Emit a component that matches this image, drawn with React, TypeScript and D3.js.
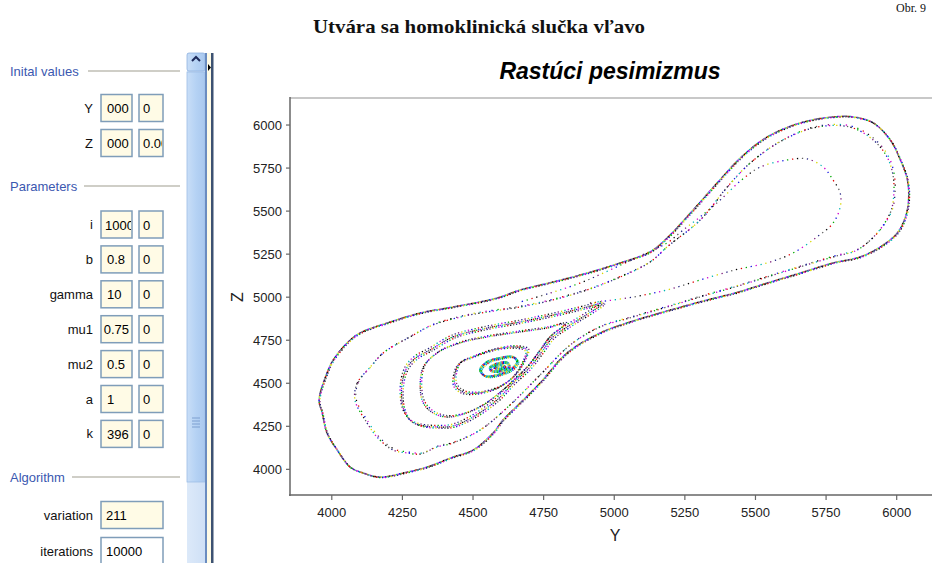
import React from 'react';
import * as d3 from 'd3';

// ---- chart data (Y, Z) ----
const axisTicks = [4000, 4250, 4500, 4750, 5000, 5250, 5500, 5750, 6000];

// big outer trajectory around both lobes
const outerLoop: [number, number][] = [
  [3955, 4403], [3983, 4559], [4005, 4635], [4054, 4734], [4100, 4792], [4196, 4850],
  [4313, 4908], [4429, 4943], [4585, 4995], [4667, 5042], [4783, 5088], [4904, 5140],
  [5021, 5199], [5127, 5263], [5187, 5344], [5279, 5506], [5364, 5663], [5450, 5814],
  [5541, 5930], [5658, 6012], [5775, 6047], [5846, 6047], [5917, 6012], [5977, 5913],
  [6013, 5797], [6038, 5680], [6042, 5564], [6031, 5466], [6002, 5373], [5942, 5292],
  [5871, 5234], [5775, 5199], [5658, 5140], [5541, 5082], [5427, 5024], [5329, 4984],
  [5187, 4920], [5067, 4862], [4950, 4792], [4833, 4676], [4737, 4501], [4667, 4385],
  [4606, 4286], [4571, 4211], [4500, 4112], [4429, 4071], [4337, 4013], [4267, 3984],
  [4171, 3955], [4111, 3979], [4065, 4013], [4019, 4112], [3983, 4211], [3966, 4327],
];

// second, sparser trajectory just inside the outer one
const secondLoop: [number, number][] = [
  [4082, 4403], [4090, 4501], [4136, 4594], [4182, 4676], [4277, 4769], [4359, 4839],
  [4490, 4897], [4667, 4943], [4783, 4984], [4904, 5042], [5021, 5117], [5127, 5204],
  [5187, 5292], [5304, 5448], [5400, 5640], [5481, 5779], [5598, 5913], [5718, 5988],
  [5835, 5988], [5917, 5913], [5966, 5814], [5988, 5698], [5988, 5564], [5977, 5489],
  [5931, 5373], [5860, 5274], [5775, 5234], [5658, 5176], [5541, 5117], [5427, 5059],
  [5304, 5001], [5187, 4943], [5067, 4885], [4950, 4827], [4844, 4722], [4737, 4548],
  [4631, 4374], [4525, 4228], [4429, 4153], [4373, 4130], [4313, 4089], [4267, 4095],
  [4217, 4112], [4160, 4188], [4125, 4269],
];

// inner loop of the right lobe (open)
const rightInner: [number, number][] = [
  [4914, 4966], [5067, 5001], [5187, 5042], [5304, 5100], [5427, 5158], [5541, 5199],
  [5633, 5257], [5718, 5350], [5775, 5431], [5800, 5524], [5800, 5605], [5775, 5680],
  [5740, 5756], [5683, 5803], [5612, 5797], [5517, 5756], [5450, 5680], [5375, 5564],
  [5304, 5466], [5244, 5390], [5187, 5315], [5092, 5240], [4985, 5158], [4879, 5082],
  [4773, 5024], [4667, 4972],
];

// nested loops of the left lobe
const leftLoop3: [number, number][] = [
  [4348, 4693], [4429, 4769], [4550, 4821], [4667, 4856], [4783, 4896], [4904, 4943],
  [4961, 4966], [4833, 4827], [4783, 4769], [4748, 4693], [4702, 4594], [4642, 4501],
  [4585, 4403], [4500, 4304], [4429, 4252], [4373, 4246], [4313, 4257], [4277, 4286],
  [4252, 4362], [4249, 4501], [4267, 4594], [4302, 4653],
];
const leftLoop4: [number, number][] = [
  [4324, 4594], [4373, 4676], [4454, 4734], [4550, 4769], [4667, 4798], [4762, 4821],
  [4826, 4845], [4772, 4769], [4737, 4693], [4691, 4594], [4606, 4461], [4525, 4362],
  [4454, 4315], [4408, 4304], [4359, 4327], [4324, 4385], [4313, 4478],
];
const leftLoop5: [number, number][] = [
  [4437, 4559], [4454, 4618], [4500, 4653], [4571, 4693], [4642, 4711], [4691, 4693],
  [4677, 4618], [4642, 4536], [4585, 4472], [4514, 4443], [4465, 4449], [4437, 4490],
];
const core1: [number, number][] = [
  [4525, 4577], [4550, 4624], [4596, 4647], [4642, 4653], [4656, 4624], [4631, 4577],
  [4585, 4548], [4543, 4542],
];
const core2: [number, number][] = [
  [4561, 4589], [4585, 4612], [4621, 4618], [4628, 4594], [4596, 4571], [4568, 4571],
];
const core3: [number, number][] = [
  [4575, 4594], [4596, 4606], [4613, 4594], [4596, 4583],
];

const dotColors = ['#000000', '#e00000', '#00a800', '#1010e0', '#d000d0', '#00b4b4', '#d8d800', '#7a1a7a', '#202080', '#606060'];
const dotColorsRev = [...dotColors].reverse();
const coreColors = ['#00b4b4', '#20a0a0', '#d8d800', '#00b4b4', '#e00000', '#1010e0', '#00c8c8', '#00a800'];

// ---- left panel data ----
const initLabels = ['Y', 'Z'];
const initValues = ['000', '000'];
const initSteps = ['0', '0.00'];
const paramLabels = ['i', 'b', 'gamma', 'mu1', 'mu2', 'a', 'k'];
const paramValues = ['1000', '0.8', '10', '0.75', '0.5', '1', '396'];
const paramSteps = ['0', '0', '0', '0', '0', '0', '0'];
const algoLabels = ['variation', 'iterations'];
const algoValues = ['211', '10000'];

const x = d3.scaleLinear().domain([3852, 6125]).range([290, 932]);
const z = d3.scaleLinear().domain([3851, 6157]).range([495, 98]);

const closedLine = d3.line<[number, number]>().x((d) => x(d[0])).y((d) => z(d[1])).curve(d3.curveCatmullRomClosed.alpha(0.5));
const openLine = d3.line<[number, number]>().x((d) => x(d[0])).y((d) => z(d[1])).curve(d3.curveCatmullRom.alpha(0.5));

function Dotted({ pts, closed = true, period, width = 1.3, colors = dotColors, sx = 0, sy = 0 }: {
  pts: [number, number][]; closed?: boolean; period: number; width?: number; colors?: string[]; sx?: number; sy?: number;
}) {
  const d = (closed ? closedLine : openLine)(pts) || '';
  const n = colors.length;
  const dot = Math.min(1.3, period * 0.9);
  return (
    <g transform={`translate(${sx}, ${sy})`}>
      {colors.map((c, i) => (
        <path key={i} d={d} fill="none" stroke={c} strokeWidth={width}
          strokeDasharray={`${dot} ${n * period - dot}`} strokeDashoffset={-i * period} />
      ))}
    </g>
  );
}

const FONT = '"Liberation Sans", Arial, sans-serif';

function InputBox({ bx, cy, w, value, fill = '#fffbe6', align = 'start', pad = 5 }: {
  bx: number; cy: number; w: number; value: string; fill?: string; align?: string; pad?: number;
}) {
  const h = 27;
  return (
    <g>
      <rect x={bx} y={cy - h / 2} width={w} height={h} fill={fill} stroke="#7f9db9" strokeWidth={1.5} />
      <svg x={bx + 1} y={cy - h / 2 + 1} width={w - 2} height={h - 2}>
        <text x={align === 'end' ? w - 4 : pad} y={h / 2 + 4} fontSize={13} fontFamily={FONT}
          textAnchor={align === 'end' ? 'end' : 'start'} fill="#000">{value}</text>
      </svg>
    </g>
  );
}

function Section({ label, y, lineFrom }: { label: string; y: number; lineFrom: number }) {
  return (
    <g>
      <text x={10} y={y + 5} fontSize={13} fontFamily={FONT} fill="#3b58b0">{label}</text>
      <line x1={lineFrom} x2={180} y1={y} y2={y} stroke="#a09e90" strokeWidth={1.2} />
    </g>
  );
}

function LeftPanel() {
  const initY = [108, 143];
  const paramY = paramLabels.map((_, i) => 224.5 + i * 34.9);
  const algoY = [515, 551];
  const label = (t: string, cy: number) => (
    <text x={93} y={cy + 4.5} textAnchor="end" fontSize={13} fontFamily={FONT} fill="#111">{t}</text>
  );
  return (
    <g>
      <Section label="Inital values" y={71} lineFrom={88} />
      {initLabels.map((l, i) => (
        <g key={l}>
          {label(l, initY[i])}
          <InputBox bx={101} cy={initY[i]} w={31} value={initValues[i]} />
          <InputBox bx={139} cy={initY[i]} w={24} value={initSteps[i]} pad={3} />
        </g>
      ))}
      <Section label="Parameters" y={186} lineFrom={84} />
      {paramLabels.map((l, i) => (
        <g key={l}>
          {label(l, paramY[i])}
          <InputBox bx={101} cy={paramY[i]} w={31} value={paramValues[i]}
            align={paramValues[i] === '0.75' ? 'end' : 'start'} pad={paramValues[i].length > 3 ? 3 : 5} />
          <InputBox bx={139} cy={paramY[i]} w={24} value={paramSteps[i]} pad={3} />
        </g>
      ))}
      <Section label="Algorithm" y={477} lineFrom={72} />
      {algoLabels.map((l, i) => (
        <g key={l}>
          {label(l, algoY[i])}
          <InputBox bx={101} cy={algoY[i]} w={62} value={algoValues[i]} fill={i === 1 ? '#ffffff' : '#fffbe6'} pad={4} />
        </g>
      ))}
      {/* scrollbar */}
      <defs>
        <linearGradient id="sb" x1="0" x2="1" y1="0" y2="0">
          <stop offset="0" stopColor="#c9def7" />
          <stop offset="0.5" stopColor="#b5d2f4" />
          <stop offset="1" stopColor="#a9c8ee" />
        </linearGradient>
        <linearGradient id="sbt" x1="0" x2="1" y1="0" y2="0">
          <stop offset="0" stopColor="#dce9f9" />
          <stop offset="1" stopColor="#cfe0f6" />
        </linearGradient>
      </defs>
      <rect x={187} y={53} width={18} height={510} fill="url(#sbt)" />
      <rect x={187} y={72} width={18} height={410} fill="url(#sb)" stroke="#9dbde6" strokeWidth={0.8} />
      <rect x={187} y={53} width={18} height={18} rx={2} fill="url(#sb)" stroke="#8fb2e0" strokeWidth={0.8} />
      <path d="M192,61 L196,57 L200,61" fill="none" stroke="#1c2a5a" strokeWidth={2} />
      {[0, 1, 2, 3].map((k) => (
        <line key={k} x1={192} x2={200} y1={418 + k * 3} y2={418 + k * 3} stroke="#7c9fd0" strokeWidth={1} />
      ))}
      <rect x={205} y={53} width={2} height={510} fill="#6a8cc0" />
      <rect x={207} y={53} width={4} height={510} fill="#fffbe6" />
      <rect x={211} y={53} width={2.5} height={510} fill="#3d5272" />
      <path d="M208,64 L211,67.5 L208,71 Z" fill="#000" />
    </g>
  );
}

function Chart() {
  return (
    <g>
      {/* frame */}
      <line x1={290} x2={932} y1={98} y2={98} stroke="#c8c8c8" strokeWidth={2} />
      <line x1={290} x2={290} y1={97} y2={496} stroke="#666" strokeWidth={1.5} />
      <line x1={289} x2={932} y1={495} y2={495} stroke="#666" strokeWidth={1.5} />
      {axisTicks.map((t) => (
        <g key={'z' + t}>
          <line x1={286} x2={290} y1={z(t)} y2={z(t)} stroke="#666" strokeWidth={1.2} />
          <text x={282} y={z(t) + 4.5} textAnchor="end" fontSize={13} fontFamily={FONT} fill="#222">{t}</text>
        </g>
      ))}
      {axisTicks.map((t) => (
        <g key={'y' + t}>
          <line x1={x(t)} x2={x(t)} y1={495} y2={500} stroke="#666" strokeWidth={1.2} />
          <text x={x(t)} y={517} textAnchor="middle" fontSize={13} fontFamily={FONT} fill="#222">{t}</text>
        </g>
      ))}
      <text x={615} y={541} textAnchor="middle" fontSize={16} fontFamily={FONT} fill="#222">Y</text>
      <text transform="translate(243, 297) rotate(-90)" textAnchor="middle" fontSize={16} fontFamily={FONT} fill="#222">Z</text>
      <text x={610} y={79} textAnchor="middle" fontSize={23} fontWeight="bold" fontStyle="italic" fontFamily={FONT} fill="#000">Rastúci pesimizmus</text>

      {/* trajectories */}
      <Dotted pts={secondLoop} period={3.6} />
      <Dotted pts={secondLoop} period={6} sx={1.2} sy={-1} colors={dotColorsRev} />
      <Dotted pts={rightInner} closed={false} period={5} />
      <Dotted pts={leftLoop3} period={2} />
      <Dotted pts={leftLoop3} period={3} sx={1.6} sy={1.2} colors={dotColorsRev} />
      <Dotted pts={leftLoop3} period={3.4} sx={-1.4} sy={-1.6} colors={dotColorsRev} />
      <Dotted pts={leftLoop4} period={2.2} />
      <Dotted pts={leftLoop4} period={3.2} sx={1.5} sy={-1.3} colors={dotColorsRev} />
      <Dotted pts={leftLoop5} period={2} />
      <Dotted pts={leftLoop5} period={3} sx={-1.5} sy={1.2} colors={dotColorsRev} />
      <Dotted pts={leftLoop5} period={3.2} sx={1.6} sy={-1.2} colors={dotColorsRev} />
      <Dotted pts={core1} period={1.4} colors={coreColors} width={2.2} />
      <Dotted pts={core1} period={2} colors={coreColors} width={1.6} sx={1.5} sy={1} />
      <Dotted pts={core2} period={1.2} colors={coreColors} width={3} />
      <Dotted pts={core3} period={1.2} colors={coreColors} width={3} />
      <Dotted pts={outerLoop} period={1.4} width={1.5} />
      <Dotted pts={outerLoop} period={3} width={1.2} sx={0.9} sy={0.6} colors={dotColorsRev} />
    </g>
  );
}

export default function App() {
  return (
    <svg width={932} height={563} style={{ position: 'absolute', left: 0, top: 0, background: '#fff' }}>
      <rect width={932} height={563} fill="#fff" />
      <text x={479} y={33} textAnchor="middle" fontSize={19} fontWeight="bold" textLength={332} lengthAdjust="spacingAndGlyphs"
        fontFamily='"Liberation Serif", "Times New Roman", serif' fill="#111">Utvára sa homoklinická slučka vľavo</text>
      <text x={896} y={12} fontSize={12} fontFamily='"Liberation Serif", serif' fill="#111">Obr. 9</text>
      <LeftPanel />
      <Chart />
    </svg>
  );
}
